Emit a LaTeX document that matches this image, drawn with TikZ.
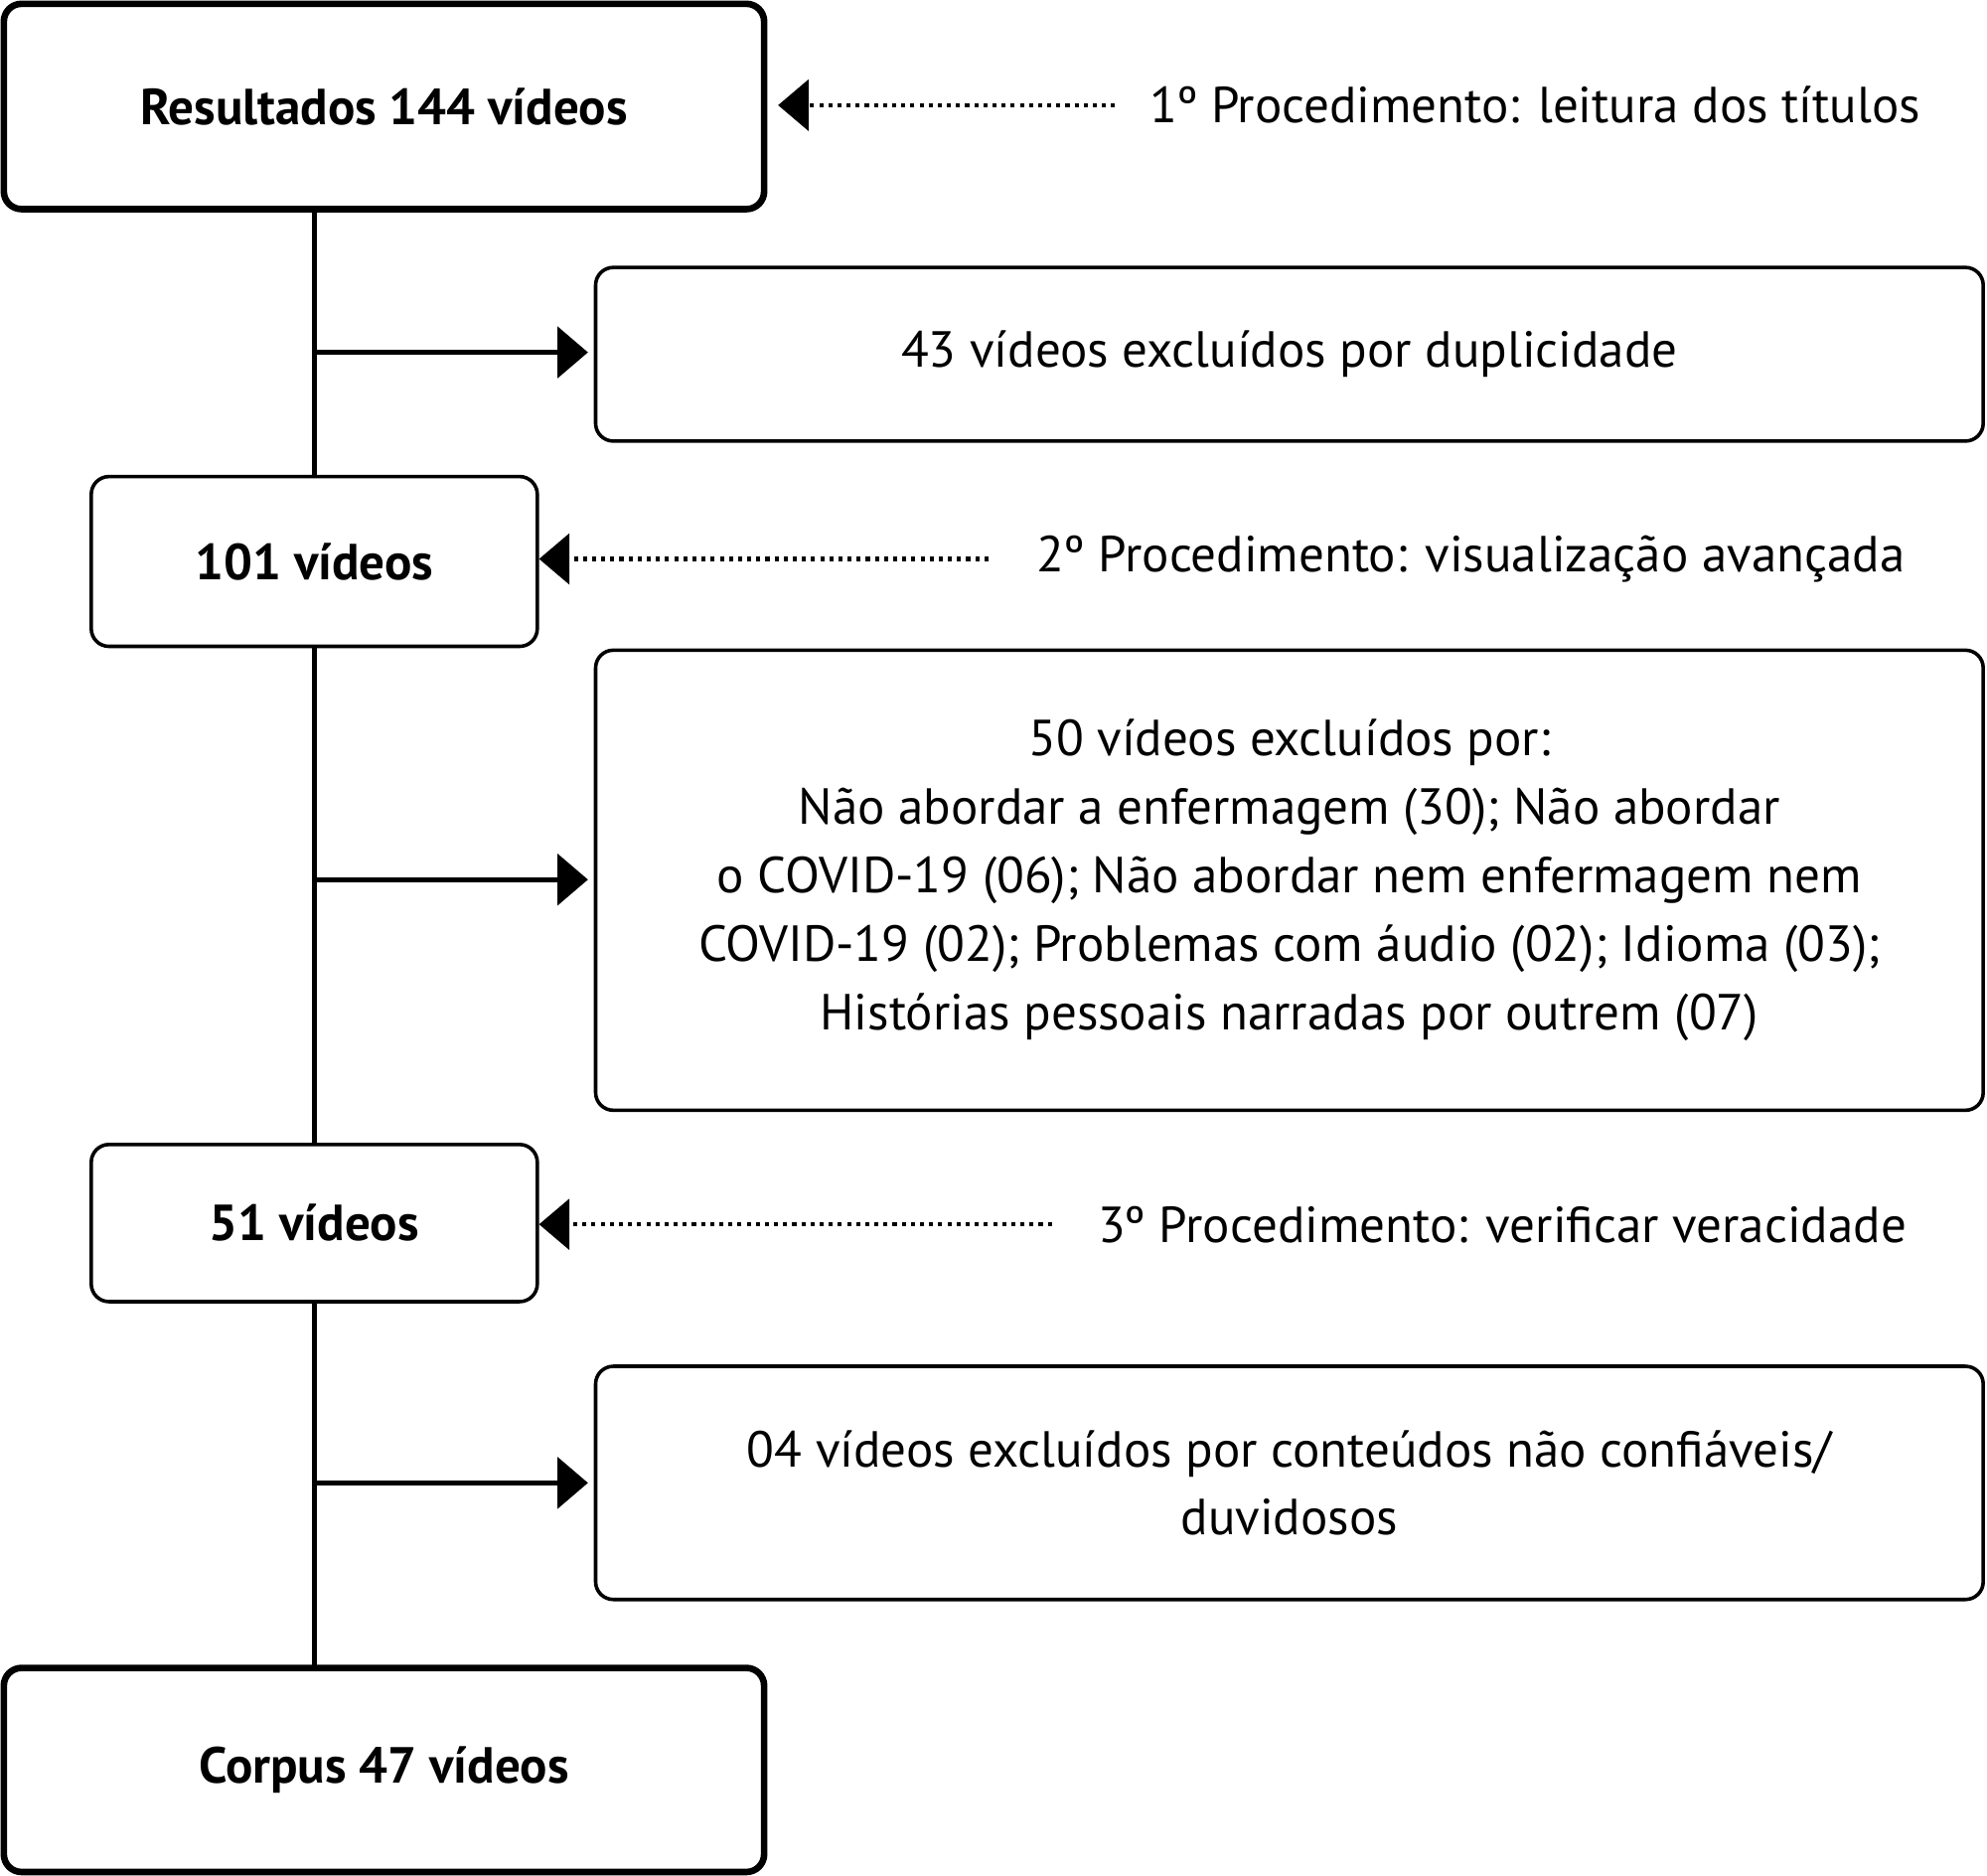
\documentclass[tikz,border=0pt]{standalone}
\usepackage{fontspec}
\setmainfont{PT Sans}
\usetikzlibrary{arrows.meta}
\begin{document}
\begin{tikzpicture}[x=0.5pt,y=-0.5pt,
 thickbox/.style={draw,line width=2.6pt,rounded corners=7pt,font=\fontsize{20}{24}\selectfont\bfseries},
 thinbox/.style={draw,line width=1.4pt,rounded corners=7pt,font=\fontsize{20}{27}\selectfont,align=center},
 conn/.style={line width=2pt},
 tip/.style={-{Triangle[length=12pt,width=20pt]}},
 dots/.style={line width=1.6pt,dotted,-{Triangle[length=12pt,width=20pt]}},
 lab/.style={font=\fontsize{20}{24}\selectfont,anchor=west,inner sep=0pt}]
\useasboundingbox (0,0) rectangle (1568,1480);
\node[thickbox,minimum width=300pt,minimum height=81pt] (a) at (303,84) {Resultados 144 vídeos};
\node[thinbox,minimum width=547.5pt,minimum height=68.5pt] (b) at (1017.5,279.5) {43 vídeos excluídos por duplicidade};
\node[thinbox,minimum width=176pt,minimum height=67pt] (c) at (248,443) {\bfseries 101 vídeos};
\node[thinbox,minimum width=547.5pt,minimum height=181.5pt] (d) at (1017.5,694.5) {50 vídeos excluídos por:\\Não abordar a enfermagem (30); Não abordar\\o COVID-19 (06); Não abordar nem enfermagem nem\\COVID-19 (02); Problemas com áudio (02); Idioma (03);\\Histórias pessoais narradas por outrem (07)};
\node[thinbox,minimum width=176pt,minimum height=62pt] (e) at (248,965) {\bfseries 51 vídeos};
\node[thinbox,minimum width=547.5pt,minimum height=92pt] (f) at (1017.5,1170) {04 vídeos excluídos por conteúdos não confiáveis/\\duvidosos};
\node[thickbox,minimum width=300pt,minimum height=80.5pt] (g) at (303,1396.5) {Corpus 47 vídeos};
\coordinate (v1) at (248,165);
\draw[conn] (v1) -- (c.north);
\draw[conn] (c.south) -- (e.north);
\draw[conn] (e.south) -- (248,1316);
\coordinate (h1) at (248,278); \coordinate (h2) at (248,694); \coordinate (h3) at (248,1170);
\draw[conn,tip] (h1) -- (464,278);
\draw[conn,tip] (h2) -- (464,694);
\draw[conn,tip] (h3) -- (464,1170);
\node[lab] (p1) at (907,83) {1º Procedimento: leitura dos títulos};
\node[lab] (p2) at (818,441) {2º Procedimento: visualização avançada};
\node[lab] (p3) at (866,966) {3º Procedimento: verificar veracidade};
\draw[dots] (880,83) -- (614,83);
\draw[dots] (780,441) -- (c.east|-0,441);
\draw[dots] (830,966) -- (c.east|-0,966);
\end{tikzpicture}
\end{document}
